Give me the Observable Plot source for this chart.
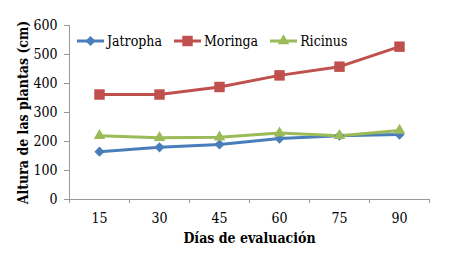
<!DOCTYPE html>
<html><head><meta charset="utf-8">
<script src="https://cdn.jsdelivr.net/npm/d3@7"></script>
<script src="https://cdn.jsdelivr.net/npm/@observablehq/plot@0.6"></script>
<style>
body{margin:0;background:#fff;}
#wrap{position:relative;width:454px;height:253px;font-family:"DejaVu Serif Condensed","DejaVu Serif",serif;}
#legend{position:absolute;top:33px;left:77px;display:flex;font-size:14px;color:#000;}
#legend .it{display:flex;align-items:center;margin-right:12px;}
#legend svg{margin-right:3px;}
</style></head>
<body><div id="wrap"><div id="chart"></div><div id="legend"></div></div>
<script>
const days = [15, 30, 45, 60, 75, 90];
const jatropha = [165, 180, 190, 210, 220, 224];
const moringa = [362, 362, 388, 428, 458, 527];
const ricinus = [220, 213, 215, 229, 220, 238];
const seriesNames = ["Jatropha", "Moringa", "Ricinus"];
const colors = ["#4a7ebb", "#c0504d", "#9bbb59"];
const symbols = ["diamond2", "square", "triangle"];
const symbolR = [4.6, 5.9, 4.3];
const yTicks = [0, 100, 200, 300, 400, 500, 600];
const xBounds = [7.5, 22.5, 37.5, 52.5, 67.5, 82.5, 97.5];

const vals = [jatropha, moringa, ricinus];
const data = [];
seriesNames.forEach((s, i) => days.forEach((d, j) => data.push({serie: s, dia: d, altura: vals[i][j]})));

const font = '"DejaVu Serif Condensed","DejaVu Serif",serif';
const chart = Plot.plot({
  width: 454, height: 253,
  marginLeft: 69, marginRight: 25, marginTop: 25, marginBottom: 54,
  style: {fontFamily: font, fontSize: "14px", color: "#000", background: "#fff"},
  x: {domain: [7.5, 97.5]},
  y: {domain: [0, 600]},
  color: {domain: seriesNames, range: colors},
  symbol: {domain: seriesNames, range: symbols},
  marks: [
    Plot.axisY({ticks: yTicks, tickSize: 5, tickPadding: 7, stroke: "#999", label: null, fontSize: 14}),
    Plot.axisX({ticks: xBounds, tickSize: 4, tickFormat: () => "", stroke: "#999", label: null}),
    Plot.axisX({ticks: days, tickSize: 0, tickPadding: 14, label: null, fontSize: 14}),
    Plot.ruleX([7.5], {stroke: "#999"}),
    Plot.ruleY([0], {stroke: "#999"}),
    Plot.line(data, {x: "dia", y: "altura", z: "serie", stroke: "serie", strokeWidth: 3}),
    ...seriesNames.map((s, i) => Plot.dot(data.filter(d => d.serie === s), {x: "dia", y: "altura", fill: "serie", symbol: "serie", r: symbolR[i], stroke: "none"})),
    Plot.text(["Días de evaluación"], {frameAnchor: "bottom", dy: 43, fontWeight: "bold", fontSize: 14}),
    Plot.text(["Altura de las plantas (cm)"], {frameAnchor: "left", dx: -46, rotate: -90, textAnchor: "middle", fontWeight: "bold", fontSize: 14})
  ]
});
document.getElementById("chart").appendChild(chart);

const symMap = {diamond2: d3.symbolDiamond2, square: d3.symbolSquare, triangle: d3.symbolTriangle};
const leg = document.getElementById("legend");
seriesNames.forEach((s, i) => {
  const it = document.createElement("div"); it.className = "it";
  const sym = d3.symbol(symMap[symbols[i]], Math.PI * symbolR[i] * symbolR[i])();
  it.innerHTML = `<svg width="27" height="16"><line x1="0" x2="27" y1="8" y2="8" stroke="${colors[i]}" stroke-width="3"/><path d="${sym}" transform="translate(13.5,8)" fill="${colors[i]}"/></svg><span>${s}</span>`;
  leg.appendChild(it);
});
</script></body></html>
